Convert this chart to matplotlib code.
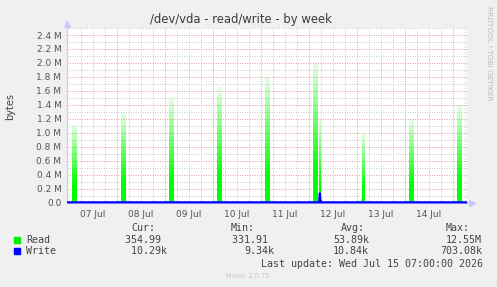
import numpy as np
import matplotlib.pyplot as plt
from matplotlib.ticker import MultipleLocator, FixedLocator, FuncFormatter

# hours counted from 07 Jul 00:00, window ends at Last update (15 Jul 07:00)
x_start, x_end = -1, 199
day_labels = ['07 Jul', '08 Jul', '09 Jul', '10 Jul', '11 Jul', '12 Jul', '13 Jul', '14 Jul']

# Read bursts (nightly jobs): time [h], peak [bytes], duration [h]
read_t = [2.5, 27, 51, 75, 99, 123, 125.5, 146.3, 147.3, 171, 195]
read_peak = [1.11e6, 1.30e6, 1.50e6, 1.65e6, 1.80e6, 2.00e6, 1.20e6, 0.07e6, 1.00e6, 1.19e6, 1.40e6]
read_dur = [2.2, 2.2, 2.2, 2.2, 2.2, 2.2, 1, 1, 1.2, 2.2, 2.2]

# Write series (bytes)
write_t = [-1, 125.0, 125.4, 125.7, 126.0, 126.4, 199]
write_v = [10.3e3, 10.3e3, 140e3, 50e3, 20e3, 10.3e3, 10.3e3]

legend_rows = [('Read', '#00ee00', ['354.99 ', '331.91 ', '53.89k', '12.55M']),
               ('Write', '#0000ff', [' 10.29k', '9.34k', '10.84k', '703.08k'])]

W, H = 497, 287
fig = plt.figure(figsize=(W / 100, H / 100), dpi=100, facecolor='#f0f0f0')
ax = fig.add_axes([67 / W, (H - 203) / H, 400 / W, 175 / H], facecolor='white')

# gradient filled spikes
n = 80
f = np.linspace(0, 1, n)
alpha = np.clip(1.25 - 1.15 * f, 0.06, 1.0)
img = np.zeros((n, 1, 4))
img[..., 1] = 1.0
img[..., 3] = alpha[:, None]
for t, p, d in zip(read_t, read_peak, read_dur):
    ax.imshow(img, extent=[t - d / 2, t + d / 2, 0, p], origin='lower',
              aspect='auto', interpolation='bilinear', zorder=2)

ax.fill_between(write_t, write_v, color='#0000ff', alpha=0.8, lw=0, zorder=3)
ax.plot(write_t, write_v, color='#0000ff', lw=1.5, zorder=4, solid_capstyle='butt')

ax.set_xlim(x_start, x_end)
ax.set_ylim(0, 2.5e6)

# grid
dots = (0, (1, 1.5))
for h in range(0, 200, 6):
    if h % 24:
        ax.axvline(h, color='#c8c8c8', lw=0.7, ls=dots, zorder=1)
for h in range(24, 200, 24):
    ax.axvline(h, color='#e39a9a', lw=0.7, ls=dots, zorder=1)
for v in np.arange(0.1e6, 2.55e6, 0.2e6):
    ax.axhline(v, color='#c8c8c8', lw=0.7, ls=dots, zorder=1)
for v in np.arange(0.2e6, 2.45e6, 0.2e6):
    ax.axhline(v, color='#e39a9a', lw=0.7, ls=dots, zorder=1)

ax.yaxis.set_major_locator(MultipleLocator(0.2e6))
ax.yaxis.set_major_formatter(FuncFormatter(lambda v, p: '0.0' if v == 0 else '%.1f M' % (v / 1e6)))
ax.xaxis.set_major_locator(FixedLocator([12 + 24 * i for i in range(len(day_labels))]))
ax.set_xticklabels(day_labels)
ax.tick_params(axis='both', length=0, labelsize=6.5, labelcolor='#555555', pad=4)
ax.tick_params(axis='x', pad=5)

for s in ['top', 'right']:
    ax.spines[s].set_visible(False)
ax.spines['left'].set_color('#c8c8ff')
ax.spines['bottom'].set_color('#c8c8ff')
ax.spines['left'].set_linewidth(0.8)
ax.plot([0], [1.025], marker='^', ms=4, color='#c8c8ff', transform=ax.transAxes, clip_on=False)
ax.plot([1.012], [0], marker='>', ms=4, color='#c8c8ff', transform=ax.transAxes, clip_on=False)

fig.text(241 / W, 1 - 20 / H, '/dev/vda - read/write - by week', ha='center', va='center',
         fontsize=8.4, color='#3c3c3c')
fig.text(10 / W, 1 - 106 / H, 'bytes', rotation=90, ha='center', va='center',
         fontsize=7, color='#444444')
fig.text(489 / W, 1 - 53 / H, 'RRDTOOL / TOBI OETIKER', rotation=270, ha='center', va='center',
         fontsize=5.3, color='#bcbcbc')

mono = dict(family='DejaVu Sans Mono', fontsize=7.2, color='#444444', va='center')
col_right = [167, 274, 369, 482]
headers = ['Cur:', 'Min:', 'Avg:', 'Max:']
header_right = [155, 255, 365, 470]
for x, hd in zip(header_right, headers):
    fig.text(x / W, 1 - 228 / H, hd, ha='right', **mono)
for i, (name, col, vals) in enumerate(legend_rows):
    y = 1 - (240 + 11 * i) / H
    fig.patches.append(plt.Rectangle((14 / W, y - 3 / H), 6 / W, 6 / H, color=col,
                                     transform=fig.transFigure, figure=fig))
    fig.text(26 / W, y, name, ha='left', **mono)
    for x, v in zip(col_right, vals):
        fig.text(x / W, y, v, ha='right', **mono)
fig.text(483 / W, 1 - 264 / H, 'Last update: Wed Jul 15 07:00:00 2026', ha='right', **mono)
fig.text(248 / W, 1 - 276 / H, 'Munin 2.0.75', ha='center', va='center', fontsize=4.8, color='#c8c8c8')

fig.savefig('out.png', dpi=100, facecolor=fig.get_facecolor())
